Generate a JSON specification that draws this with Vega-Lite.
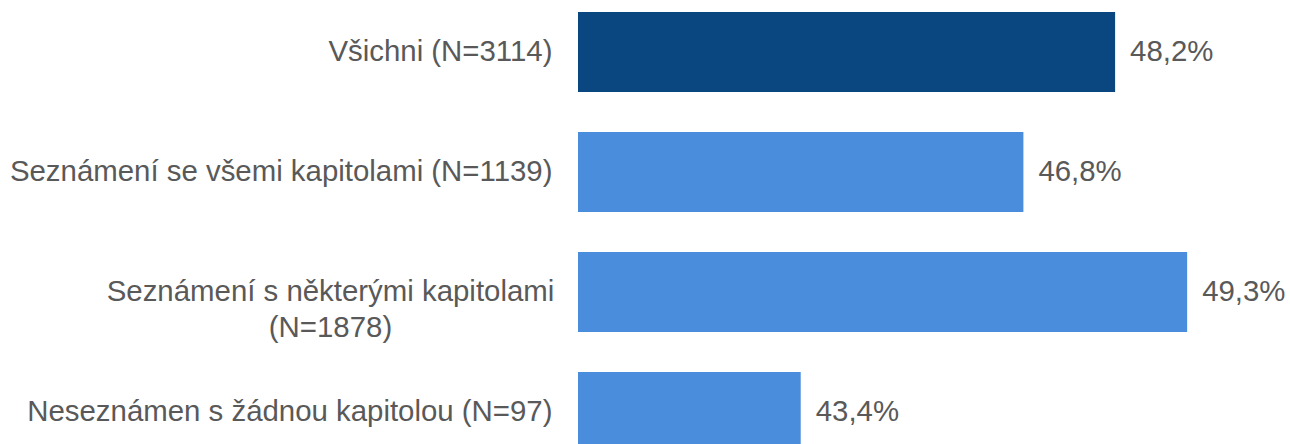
{
  "$schema": "https://vega.github.io/schema/vega-lite/v6.json",
  "autosize": "none",
  "padding": {"left": 578, "top": 0, "right": 57, "bottom": 0},
  "width": 655,
  "height": 464,
  "config": {
    "view": {"stroke": null},
    "font": "Liberation Sans",
    "locale": {
      "number": {"decimal": ",", "thousands": " ", "grouping": [3], "currency": ["", " Kč"]}
    }
  },
  "data": {
    "values": [
      {"skupina": "Všichni (N=3114)", "podil": 0.482, "typ": "vsichni"},
      {"skupina": "Seznámení se všemi kapitolami (N=1139)", "podil": 0.468, "typ": "cast"},
      {"skupina": "Seznámení s některými kapitolami (N=1878)", "podil": 0.493, "typ": "cast"},
      {"skupina": "Neseznámen s žádnou kapitolou (N=97)", "podil": 0.434, "typ": "cast"}
    ]
  },
  "encoding": {
    "y": {
      "field": "skupina",
      "type": "nominal",
      "sort": null,
      "scale": {"paddingInner": 0.3333, "paddingOuter": 0.1},
      "axis": {
        "title": null,
        "domain": false,
        "ticks": false,
        "labelLimit": 0,
        "labelFontSize": 29.4,
        "labelColor": "#595959",
        "labelLineHeight": 36,
        "labelExpr": "datum.value == 'Seznámení s některými kapitolami (N=1878)' ? ['Seznámení s některými kapitolami', '(N=1878)'] : datum.label",
        "labelAlign": {"condition": {"test": "datum.value == 'Seznámení s některými kapitolami (N=1878)'", "value": "center"}, "value": "right"},
        "labelPadding": {"condition": {"test": "datum.value == 'Seznámení s některými kapitolami (N=1878)'", "value": 248}, "value": 26}
      }
    },
    "x": {
      "field": "podil",
      "type": "quantitative",
      "scale": {"domain": [0.4, 0.5], "zero": false, "nice": false},
      "axis": null
    }
  },
  "layer": [
    {
      "mark": {"type": "bar"},
      "encoding": {
        "x2": {"datum": 0.4},
        "color": {
          "field": "typ",
          "type": "nominal",
          "scale": {"domain": ["vsichni", "cast"], "range": ["#0A4780", "#4A8DDC"]},
          "legend": null
        }
      }
    },
    {
      "mark": {"type": "text", "align": "left", "baseline": "middle", "dx": 15, "fontSize": 29.4, "color": "#595959"},
      "encoding": {
        "text": {"field": "podil", "type": "quantitative", "format": ".1%"}
      }
    }
  ]
}
